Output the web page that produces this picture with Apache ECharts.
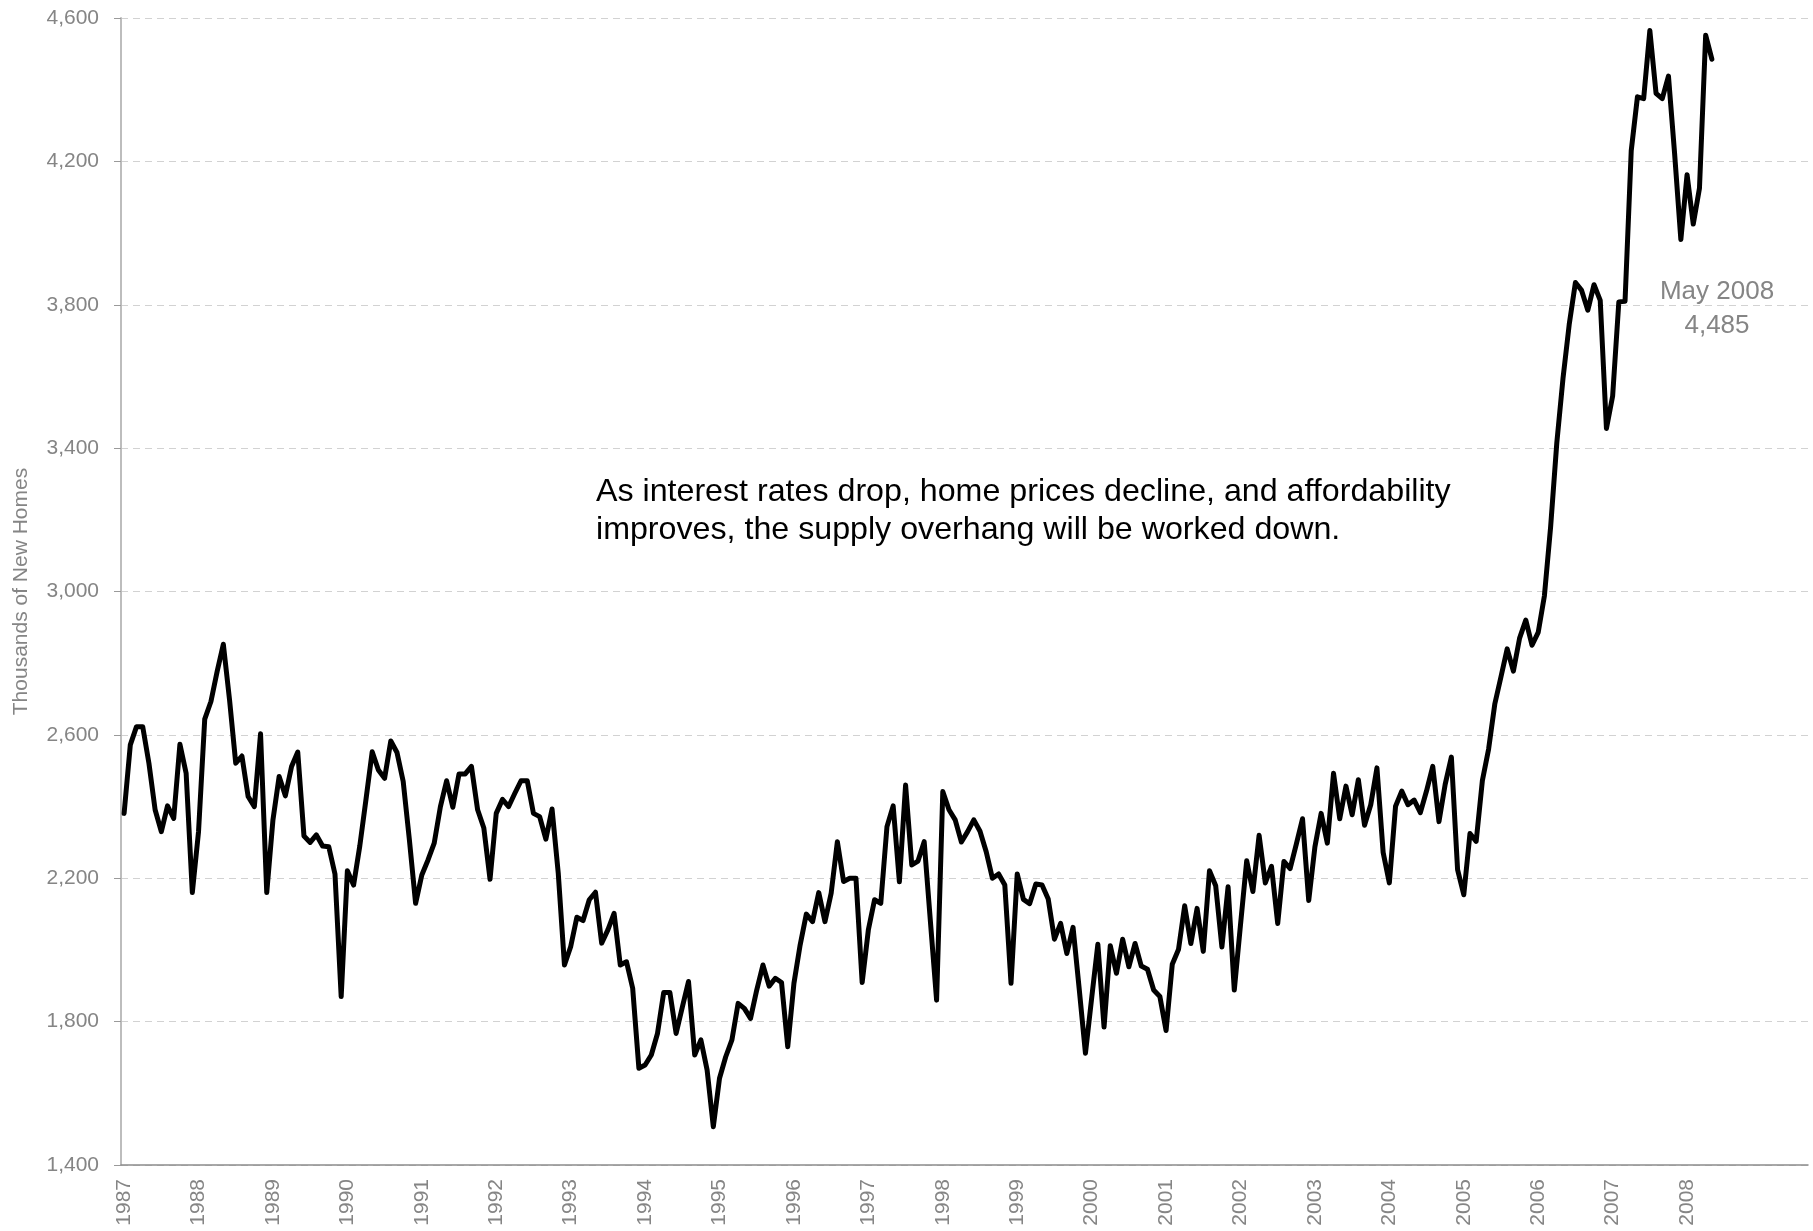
<!DOCTYPE html>
<html>
<head>
<meta charset="utf-8">
<title>Homes for Sale</title>
<script src="https://cdn.jsdelivr.net/npm/echarts@6/dist/echarts.min.js"></script>
<style>
  html, body { margin: 0; padding: 0; background: #ffffff; }
  #chart { width: 1813px; height: 1231px; }
</style>
</head>
<body>
<div id="chart"></div>
<script>
// Year labels shown under the axis (one per January)
const yearLabels = ['1987', '1988', '1989', '1990', '1991', '1992', '1993', '1994',
  '1995', '1996', '1997', '1998', '1999', '2000', '2001', '2002', '2003', '2004',
  '2005', '2006', '2007', '2008'];

// Monthly inventory, thousands of homes, Jan 1987 - May 2008
const homes1987to1992 = [
  2381, 2572, 2623, 2623, 2521, 2391, 2330, 2402, 2367, 2574, 2493, 2160,
  2330, 2644, 2693, 2777, 2853, 2698, 2521, 2541, 2428, 2400, 2603, 2160,
  2363, 2484, 2430, 2512, 2552, 2318, 2300, 2321, 2290, 2288, 2212, 1870,
  2221, 2181, 2290, 2420, 2553, 2502, 2479, 2583, 2551, 2470, 2307, 2130,
  2209, 2251, 2298, 2400, 2472, 2398, 2491, 2491, 2512, 2391, 2340, 2197,
  2381, 2420, 2400, 2437, 2472, 2472, 2381, 2372, 2309, 2393, 2214, 1958
];
const homes1993to1998 = [
  2009, 2091, 2082, 2140, 2161, 2019, 2056, 2102, 1958, 1967, 1893, 1670,
  1679, 1707, 1767, 1881, 1881, 1767, 1840, 1912, 1707, 1749, 1665, 1507,
  1642, 1702, 1749, 1851, 1837, 1809, 1888, 1958, 1899, 1921, 1909, 1730,
  1907, 2014, 2100, 2079, 2160, 2079, 2158, 2302, 2191, 2200, 2200, 1909,
  2056, 2140, 2130, 2344, 2402, 2190, 2460, 2237, 2248, 2302, 2080, 1860,
  2442, 2391, 2363, 2301, 2330, 2363, 2331, 2274, 2200, 2212, 2181, 1907
];
const homes1999to2004 = [
  2212, 2141, 2129, 2184, 2181, 2142, 2030, 2074, 1990, 2063, 1890, 1712,
  1865, 2016, 1785, 2012, 1935, 2030, 1953, 2018, 1955, 1946, 1888, 1870,
  1775, 1960, 2001, 2123, 2018, 2116, 1996, 2221, 2179, 2008, 2176, 1888,
  2070, 2249, 2163, 2320, 2187, 2233, 2074, 2247, 2227, 2295, 2366, 2138,
  2288, 2381, 2298, 2493, 2366, 2457, 2377, 2475, 2348, 2405, 2508, 2272,
  2187, 2401, 2443, 2405, 2418, 2383, 2444, 2512, 2358, 2462, 2538, 2224
];
const homes2005to2008 = [
  2154, 2325, 2303, 2473, 2560, 2686, 2762, 2840, 2778, 2870, 2920, 2850,
  2886, 2988, 3180, 3415, 3595, 3745, 3862, 3840, 3785, 3856, 3812, 3455,
  3545, 3808, 3810, 4230, 4380, 4375, 4565, 4390, 4375, 4438, 4220, 3982,
  4163, 4025, 4125, 4552, 4485
];
const homesForSale = [].concat(homes1987to1992, homes1993to1998, homes1999to2004, homes2005to2008);

const monthNames = ['Jan', 'Feb', 'Mar', 'Apr', 'May', 'Jun', 'Jul', 'Aug', 'Sep', 'Oct', 'Nov', 'Dec'];
const lastPointLabel = 'May 2008';
const noteText = 'As interest rates drop, home prices decline, and affordability\nimproves, the supply overhang will be worked down.';
const axisTitle = 'Thousands of New Homes';

// The time axis runs a little past the last observation
const axisSlots = 272;
const categories = [];
for (let y = 1987; categories.length < axisSlots; y++) {
  for (let m = 0; m < 12 && categories.length < axisSlots; m++) {
    categories.push(monthNames[m] + ' ' + y);
  }
}

const fmt = v => String(v).replace(/\B(?=(\d{3})+(?!\d))/g, ',');
const FONT = '"Liberation Sans", Arial, Helvetica, sans-serif';
const GREY = '#858585';

const chart = echarts.init(document.getElementById('chart'), null, { renderer: 'canvas' });

chart.setOption({
  animation: false,
  backgroundColor: '#ffffff',
  grid: { left: 121, right: 5, top: 18, bottom: 66, containLabel: false },
  xAxis: {
    type: 'category',
    data: categories,
    boundaryGap: true,
    axisLine: { show: true, lineStyle: { color: '#8c8c8c', width: 1.5 } },
    axisTick: { show: false },
    splitLine: { show: false },
    axisLabel: {
      interval: (idx, val) => {
        const parts = val.split(' ');
        return parts[0] === 'Jan' && yearLabels.indexOf(parts[1]) >= 0;
      },
      formatter: val => val.split(' ')[1],
      rotate: 90,
      margin: 14,
      color: GREY,
      fontSize: 21,
      fontFamily: FONT
    }
  },
  yAxis: {
    type: 'value',
    min: 1400,
    max: 4600,
    interval: 400,
    name: axisTitle,
    nameLocation: 'middle',
    nameGap: 89,
    nameTextStyle: { color: GREY, fontSize: 21, fontFamily: FONT },
    axisLine: { show: true, lineStyle: { color: '#bdbdbd', width: 2 } },
    axisTick: { show: true, length: 7, lineStyle: { color: '#9a9a9a', width: 1 } },
    axisLabel: {
      formatter: v => fmt(v),
      margin: 22,
      color: GREY,
      fontSize: 21,
      fontFamily: FONT
    },
    splitLine: { show: true, lineStyle: { color: '#d2d2d2', width: 1.2, type: [7, 5] } }
  },
  series: [{
    type: 'line',
    data: homesForSale,
    showSymbol: false,
    symbol: 'none',
    lineStyle: { color: '#000000', width: 5, join: 'round', cap: 'round' },
    z: 5
  }],
  graphic: [
    {
      type: 'text',
      left: 596,
      top: 473,
      style: {
        text: noteText,
        fill: '#000000',
        font: '32.2px ' + FONT,
        lineHeight: 38
      }
    },
    {
      type: 'text',
      x: 1717,
      y: 275,
      style: {
        text: lastPointLabel + '\n' + fmt(homesForSale[homesForSale.length - 1]),
        fill: GREY,
        font: '26px ' + FONT,
        lineHeight: 34,
        textAlign: 'center'
      }
    }
  ]
});
</script>
</body>
</html>
